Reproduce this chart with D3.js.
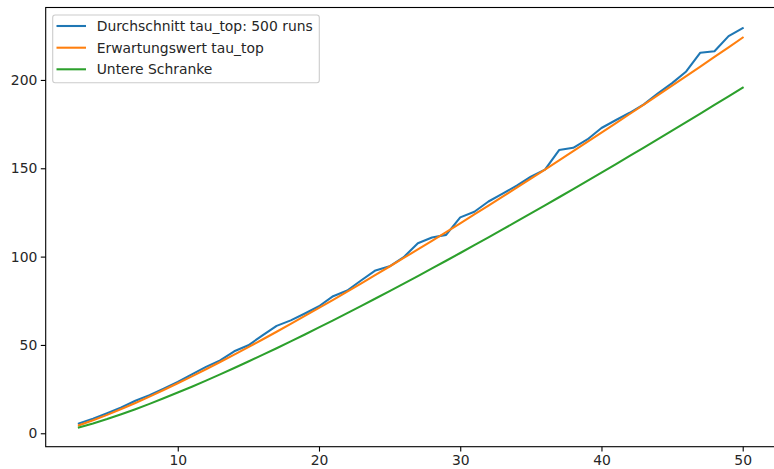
<!DOCTYPE html>
<html>
<head>
<meta charset="utf-8">
<script src="https://cdn.jsdelivr.net/npm/d3@7"></script>
<style>
  html, body { margin: 0; padding: 0; background: #fff; }
  svg { display: block; }
  text { font-family: "DejaVu Sans", sans-serif; }
</style>
</head>
<body>
<svg id="chart" width="774" height="469"></svg>
<script>
const nValues = d3.range(3, 51);
const averageTauTop = [5.5, 8.2, 11.3, 14.6, 18.4, 21.6, 25.3, 29.0, 33.3, 37.6, 41.2, 46.4, 49.8, 55.4, 60.8, 63.9, 67.8, 71.9, 77.6, 80.8, 86.6, 92.2, 94.5, 99.7, 107.6, 110.8, 112.3, 122.2, 125.4, 131.2, 135.6, 140.2, 145.2, 149.2, 160.3, 161.6, 166.3, 172.8, 177.2, 181.4, 186.2, 192.4, 198.2, 204.8, 215.4, 216.2, 224.8, 229.3];
const expectedTauTop = [4.5, 7.33, 10.42, 13.7, 17.15, 20.74, 24.46, 28.29, 32.22, 36.24, 40.34, 44.52, 48.77, 53.09, 57.47, 61.91, 66.41, 70.95, 75.55, 80.2, 84.89, 89.62, 94.4, 99.22, 104.07, 108.96, 113.89, 118.85, 123.85, 128.87, 133.93, 139.02, 144.14, 149.28, 154.46, 159.66, 164.89, 170.14, 175.42, 180.72, 186.05, 191.4, 196.77, 202.17, 207.58, 213.02, 218.48, 223.96];
const lowerBound = [3.3, 5.55, 8.05, 10.75, 13.62, 16.64, 19.78, 23.03, 26.38, 29.82, 33.34, 36.95, 40.62, 44.36, 48.16, 52.03, 55.94, 59.91, 63.93, 68.0, 72.12, 76.27, 80.47, 84.71, 88.99, 93.3, 97.65, 102.04, 106.45, 110.9, 115.38, 119.9, 124.44, 129.01, 133.6, 138.23, 142.88, 147.56, 152.26, 156.98, 161.73, 166.51, 171.3, 176.12, 180.96, 185.82, 190.7, 195.6];
const seriesNames = ["Durchschnitt tau_top: 500 runs", "Erwartungswert tau_top", "Untere Schranke"];
const seriesColors = ["#1f77b4", "#ff7f0e", "#2ca02c"];
const xTicks = [10, 20, 30, 40, 50];
const yTicks = [0, 50, 100, 150, 200];

const svg = d3.select("#chart");
const plotLeft = 45.7, plotRight = 775.9, plotTop = 7.5, plotBottom = 446.7;

const x = d3.scaleLinear().domain([0.65, 52.35]).range([plotLeft, plotRight]);
const y = d3.scaleLinear().domain([-7.6, 241.0]).range([plotBottom, plotTop]);

const series = [averageTauTop, expectedTauTop, lowerBound];
const line = d3.line().x((d, i) => x(nValues[i])).y(d => y(d));

const g = svg.append("g");
series.forEach((vals, k) => {
  g.append("path")
    .datum(vals)
    .attr("fill", "none")
    .attr("stroke", seriesColors[k])
    .attr("stroke-width", 2.08)
    .attr("stroke-linejoin", "round")
    .attr("stroke-linecap", "square")
    .attr("d", line);
});

// Axes
const xAxis = d3.axisBottom(x).tickValues(xTicks).tickSize(4.9).tickPadding(3.5).tickFormat(d3.format("d"));
const yAxis = d3.axisLeft(y).tickValues(yTicks).tickSize(4.9).tickPadding(3.5).tickFormat(d3.format("d"));

const gx = svg.append("g").attr("transform", `translate(0,${plotBottom})`).call(xAxis);
const gy = svg.append("g").attr("transform", `translate(${plotLeft},0)`).call(yAxis);
[gx, gy].forEach(a => {
  a.select(".domain").remove();
  a.selectAll(".tick line").attr("stroke", "#000").attr("stroke-width", 1.1);
  a.selectAll(".tick text").attr("fill", "#262626").style("font-size", "13.9px").style("font-family", "DejaVu Sans, sans-serif");
});

// Spines
svg.append("rect")
  .attr("x", plotLeft).attr("y", plotTop)
  .attr("width", plotRight - plotLeft).attr("height", plotBottom - plotTop)
  .attr("fill", "none").attr("stroke", "#000").attr("stroke-width", 1.1);

// Legend
const lg = svg.append("g");
lg.append("rect")
  .attr("x", 52.7).attr("y", 15)
  .attr("width", 266.6).attr("height", 67.7)
  .attr("rx", 2.5)
  .attr("fill", "#fff").attr("fill-opacity", 0.8)
  .attr("stroke", "#cccccc").attr("stroke-width", 1.1);
const rowY = [26, 47.7, 69.3];
seriesNames.forEach((name, k) => {
  lg.append("line")
    .attr("x1", 56.5).attr("x2", 86)
    .attr("y1", rowY[k]).attr("y2", rowY[k])
    .attr("stroke", seriesColors[k]).attr("stroke-width", 2.08);
  lg.append("text")
    .attr("x", 96.7).attr("y", rowY[k])
    .attr("dy", "0.35em")
    .attr("fill", "#262626")
    .style("font-size", "13.9px")
    .text(name);
});
</script>
</body>
</html>
